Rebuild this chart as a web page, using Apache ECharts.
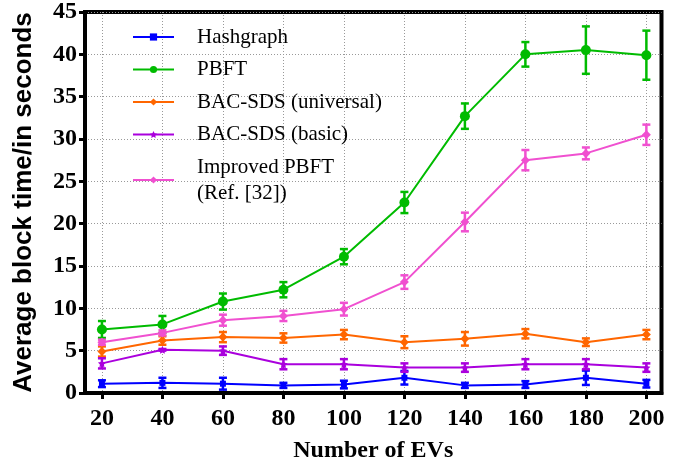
<!DOCTYPE html>
<html>
<head>
<meta charset="utf-8">
<script src="https://cdn.jsdelivr.net/npm/echarts@6/dist/echarts.min.js"></script>
<style>
html,body{margin:0;padding:0;background:#fff;}
#chart{width:685px;height:469px;}
</style>
</head>
<body>
<div id="chart"></div>
<script>
var evs = [20, 40, 60, 80, 100, 120, 140, 160, 180, 200];
var yTicks = [0, 5, 10, 15, 20, 25, 30, 35, 40, 45];

var seriesNames = ['Hashgraph', 'PBFT', 'BAC-SDS (universal)', 'BAC-SDS (basic)', 'Improved PBFT\n(Ref. [32])'];

var hashgraph    = [1.1, 1.2, 1.1, 0.9, 1.0, 1.8, 0.9, 1.0, 1.8, 1.1];
var hashgraphErr = [0.4, 0.6, 0.7, 0.3, 0.45, 0.8, 0.3, 0.4, 0.85, 0.45];
var pbft         = [7.5, 8.1, 10.8, 12.2, 16.1, 22.5, 32.7, 40.0, 40.5, 39.9];
var pbftErr      = [1.0, 1.0, 0.95, 0.9, 0.9, 1.25, 1.5, 1.45, 2.8, 2.9];
var universal    = [4.9, 6.2, 6.6, 6.5, 6.9, 6.0, 6.4, 7.0, 6.0, 6.9];
var universalErr = [0.6, 0.5, 0.6, 0.55, 0.55, 0.7, 0.8, 0.55, 0.45, 0.55];
var basic        = [3.5, 5.1, 5.0, 3.4, 3.4, 3.0, 3.0, 3.4, 3.4, 3.0];
var basicErr     = [0.6, 0.1, 0.5, 0.6, 0.6, 0.5, 0.5, 0.6, 0.6, 0.5];
var improved     = [6.0, 7.1, 8.6, 9.1, 9.9, 13.1, 20.2, 27.5, 28.3, 30.5];
var improvedErr  = [0.3, 0.3, 0.65, 0.6, 0.75, 0.8, 1.1, 1.2, 0.7, 1.2];

var colors = ['#0000ff', '#00bb00', '#ff6600', '#aa00dd', '#f050d0'];
var starPath = 'path://M0,-10L2.9,-4L9.5,-3.1L4.8,1.5L5.9,8.1L0,5L-5.9,8.1L-4.8,1.5L-9.5,-3.1L-2.9,-4Z';
var symbols = ['rect', 'circle', 'diamond', starPath, 'diamond'];
var symbolSizes = [6, 10, 9, 8, 9];

var chart = echarts.init(document.getElementById('chart'));

function pairs(vals) {
    var out = [];
    for (var i = 0; i < evs.length; i++) out.push([evs[i], vals[i]]);
    return out;
}
function errData(vals, errs) {
    var out = [];
    for (var i = 0; i < evs.length; i++) out.push([evs[i], vals[i], errs[i]]);
    return out;
}
// error bar: vertical stroke + two caps
function errRender(color) {
    return function (params, api) {
        var x = api.value(0), m = api.value(1), e = api.value(2);
        var hi = api.coord([x, m + e]);
        var lo = api.coord([x, m - e]);
        var w = 4;
        var st = {stroke: color, lineWidth: 2.5};
        return {
            type: 'group',
            children: [
                {type: 'line', shape: {x1: hi[0], y1: hi[1], x2: lo[0], y2: lo[1]}, style: st},
                {type: 'line', shape: {x1: hi[0] - w, y1: hi[1], x2: hi[0] + w, y2: hi[1]}, style: st},
                {type: 'line', shape: {x1: lo[0] - w, y1: lo[1], x2: lo[0] + w, y2: lo[1]}, style: st}
            ]
        };
    };
}

var allVals = [hashgraph, pbft, universal, basic, improved];
var allErrs = [hashgraphErr, pbftErr, universalErr, basicErr, improvedErr];
var series = [];
for (var k = 0; k < allVals.length; k++) {
    series.push({
        name: seriesNames[k] + ' err',
        type: 'custom',
        renderItem: errRender(colors[k]),
        encode: {x: 0, y: 1},
        data: errData(allVals[k], allErrs[k]),
        z: 3,
        silent: true
    });
}
for (var k = 0; k < allVals.length; k++) {
    series.push({
        name: seriesNames[k],
        type: 'line',
        data: pairs(allVals[k]),
        symbol: symbols[k],
        symbolSize: symbolSizes[k],
        color: colors[k],
        lineStyle: {width: 2, color: colors[k]},
        itemStyle: {color: colors[k]},
        z: 4
    });
}

var gridLine = {show: true, lineStyle: {color: '#999', width: 1, type: [1, 2]}};

option = {
    backgroundColor: '#fff',
    animation: false,
    grid: {
        left: 85, right: 23.5, top: 11, bottom: 76,
        show: true, borderColor: '#000', borderWidth: 4
    },
    legend: {
        data: seriesNames,
        orient: 'vertical',
        left: 132,
        top: 24,
        padding: 0,
        itemGap: 6.5,
        itemWidth: 41,
        itemHeight: 9,
        textStyle: {
            fontFamily: 'Liberation Serif',
            fontSize: 21,
            color: '#000',
            lineHeight: 26,
            padding: [0, 0, 0, 18]
        }
    },
    xAxis: {
        type: 'value',
        min: 14.4,
        max: 205,
        name: 'Number of EVs',
        nameLocation: 'middle',
        nameGap: 46,
        nameTextStyle: {fontFamily: 'Liberation Serif', fontWeight: 'bold', fontSize: 24, color: '#000'},
        axisLine: {show: true, onZero: false, lineStyle: {color: '#000', width: 4}},
        axisTick: {show: true, customValues: evs, length: 6, lineStyle: {color: '#000', width: 3}},
        axisLabel: {customValues: evs, margin: 14, fontFamily: 'Liberation Serif', fontWeight: 'bold', fontSize: 24, color: '#000'},
        splitLine: gridLine
    },
    yAxis: {
        type: 'value',
        min: 0,
        max: 45,
        interval: 5,
        name: 'Average block time/in seconds',
        nameLocation: 'middle',
        nameGap: 48,
        nameTextStyle: {fontFamily: 'Liberation Sans', fontWeight: 'bold', fontSize: 26, color: '#000'},
        axisLine: {show: true, lineStyle: {color: '#000', width: 4}},
        axisTick: {show: true, length: 6, lineStyle: {color: '#000', width: 3}},
        axisLabel: {margin: 8, fontFamily: 'Liberation Serif', fontWeight: 'bold', fontSize: 24, color: '#000'},
        splitLine: gridLine
    },
    series: series
};
chart.setOption(option);
</script>
</body>
</html>
